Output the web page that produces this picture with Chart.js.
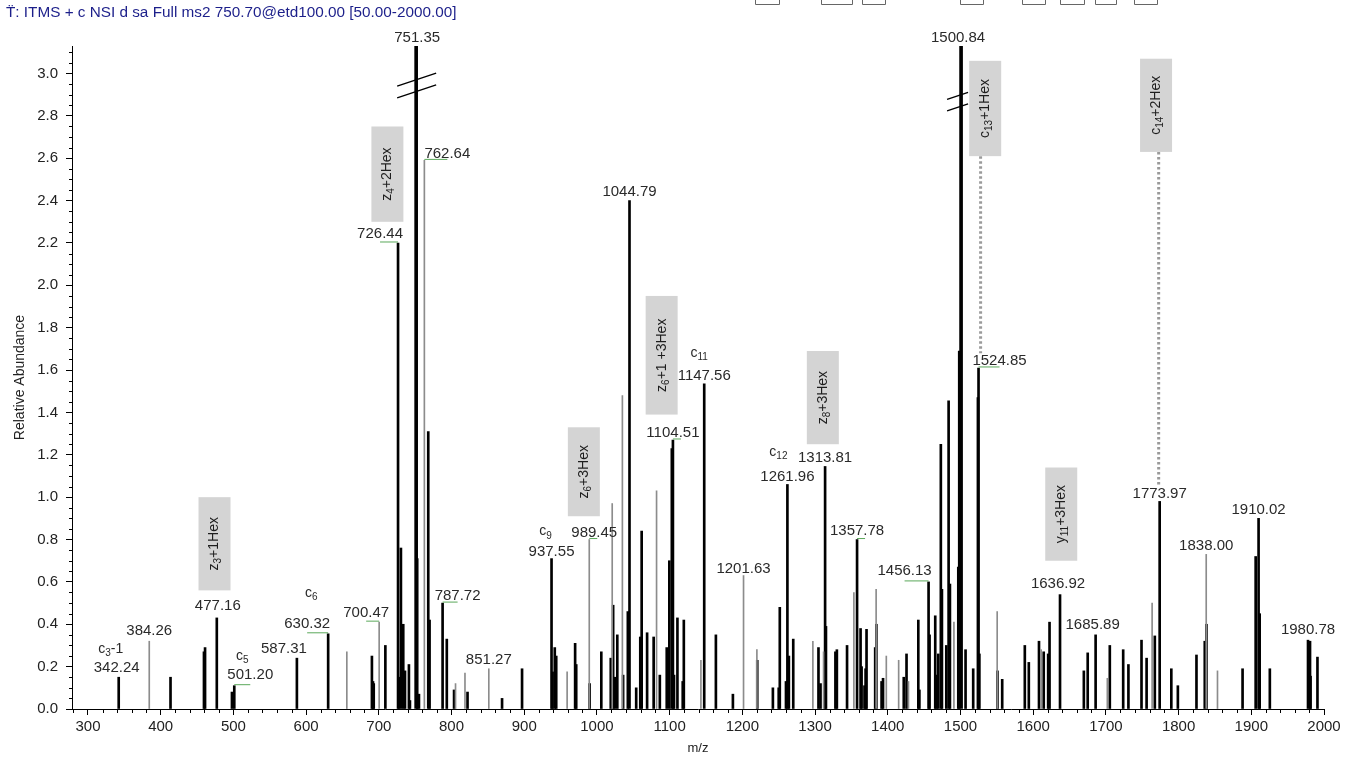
<!DOCTYPE html>
<html>
<head>
<meta charset="utf-8">
<script src="https://cdn.jsdelivr.net/npm/chart.js@4.4.0/dist/chart.umd.min.js"></script>
<style>
  html, body { margin: 0; padding: 0; background: #fff; }
  #wrap { position: relative; width: 1355px; height: 759px; }
</style>
</head>
<body>
<div id="wrap"><canvas id="spectrum"></canvas></div>
<script>
// peaks (m/z, relative abundance)
const blackMz = [342.24, 413.5, 459.5, 461.0, 477.16, 498.0, 501.20, 587.31, 630.32, 690.5, 692.0, 693.0,
  709.0, 726.44, 727.5, 730.4, 733.6, 736.0, 741.4, 742.8, 752.8, 755.2, 768.0, 769.8, 787.72, 793.5,
  803.5, 822.0, 869.5, 897.0,
  937.55, 939.0, 942.0, 944.0, 970.0, 971.5, 989.9, 1006.0, 1019.0, 1022.3, 1024.5, 1028.0, 1036.0,
  1042.5, 1044.79, 1054.0, 1059.6, 1061.5, 1069.0, 1078.0, 1086.5, 1096.0, 1099.6, 1103.0, 1104.51,
  1106.0, 1110.7, 1118.0, 1119.5, 1147.56, 1163.6, 1187.0, 1220.5, 1242.0, 1250.0, 1251.5, 1260.0,
  1261.96, 1264.0, 1270.0, 1304.7, 1307.5, 1313.81, 1315.0, 1328.0, 1330.0, 1344.0, 1357.78, 1362.6,
  1364.0, 1368.0, 1369.5, 1370.8, 1382.7, 1384.3, 1391.5, 1393.5, 1422.0, 1425.8, 1442.0, 1443.5,
  1456.13, 1457.5, 1465.3, 1467.0, 1469.5, 1473.0, 1474.5, 1480.5, 1483.7, 1485.5, 1497.0, 1498.3,
  1507.0, 1517.5, 1524.0, 1524.85, 1526.0, 1550.8, 1557.4, 1588.5, 1594.0, 1608.0, 1614.5, 1620.6,
  1622.5, 1636.92, 1669.7, 1675.0, 1685.89, 1705.4, 1723.8, 1731.0, 1749.0, 1756.0, 1767.3, 1773.97,
  1790.0, 1799.0, 1824.6, 1836.0, 1838.3, 1888.0, 1906.0, 1910.02, 1911.5, 1925.5, 1978.0, 1980.78,
  1981.5, 1991.0];
const blackAbund = [0.15, 0.15, 0.27, 0.29, 0.43, 0.08, 0.11, 0.24, 0.355, 0.25, 0.13, 0.12,
  0.30, 2.20, 0.15, 0.76, 0.40, 0.18, 0.21, 0.04, 0.71, 0.07, 1.31, 0.42, 0.50, 0.33,
  0.09, 0.08, 0.05, 0.19,
  0.71, 0.175, 0.29, 0.25, 0.31, 0.21, 0.12, 0.27, 0.24, 0.49, 0.15, 0.35, 0.16,
  0.46, 2.40, 0.10, 0.34, 0.84, 0.36, 0.34, 0.16, 0.29, 0.70, 1.23, 1.27,
  0.16, 0.43, 0.13, 0.42, 1.535, 0.35, 0.07, 0.23, 0.10, 0.10, 0.48, 0.13,
  1.06, 0.25, 0.33, 0.29, 0.12, 1.145, 0.39, 0.27, 0.28, 0.30, 0.80, 0.38,
  0.20, 0.11, 0.19, 0.376, 0.29, 0.40, 0.13, 0.145, 0.15, 0.26, 0.42, 0.09,
  0.60, 0.35, 0.44, 0.16, 0.26, 1.25, 0.565, 0.30, 1.455, 0.59, 0.67, 1.69,
  0.28, 0.19, 1.47, 1.61, 0.26, 0.18, 0.14, 0.30, 0.22, 0.32, 0.27, 0.26,
  0.41, 0.54, 0.18, 0.265, 0.35, 0.30, 0.28, 0.21, 0.325, 0.24, 0.345, 0.98,
  0.19, 0.11, 0.255, 0.32, 0.40, 0.19, 0.72, 0.90, 0.45, 0.19, 0.325, 0.32,
  0.155, 0.245];
const greyMz = [384.26, 656.0, 700.47, 762.64, 805.5, 818.5, 851.27, 959.0, 989.45, 1021.0, 1035.0,
  1082.0, 1143.0, 1201.63, 1220.0, 1297.0, 1311.7, 1353.4, 1384.0, 1398.0, 1415.0, 1428.5, 1491.0,
  1550.5, 1611.0, 1702.0, 1763.6, 1838.00, 1853.5];
const greyAbund = [0.32, 0.27, 0.41, 2.59, 0.12, 0.17, 0.19, 0.175, 0.80, 0.97, 1.48,
  1.03, 0.23, 0.63, 0.28, 0.32, 0.27, 0.55, 0.565, 0.25, 0.23, 0.13, 0.41,
  0.46, 0.28, 0.145, 0.50, 0.73, 0.18];
// base peaks run off the top of the axis (broken)
const baseMz = [751.35, 1500.84];
const baseAbund = [3.13, 3.13];

const labelMz = [342.24, 384.26, 477.16, 501.20, 587.31, 630.32, 700.47, 726.44, 751.35, 762.64,
  787.72, 851.27, 937.55, 989.45, 1044.79, 1104.51, 1147.56, 1201.63, 1261.96, 1313.81, 1357.78,
  1456.13, 1500.84, 1524.85, 1636.92, 1685.89, 1773.97, 1838.00, 1910.02, 1980.78];
const ionMz = [342.24, 501.20, 630.32, 937.55, 1147.56, 1261.96];
const ionText = ['c_3-1', 'c_5', 'c_6', 'c_9', 'c_11', 'c_12'];
const glycoText = ['z_3+1Hex', 'z_4+2Hex', 'z_6+3Hex', 'z_6+1 +3Hex', 'z_8+3Hex', 'c_13+1Hex', 'c_14+2Hex', 'y_11+3Hex'];
const glycoMz = [474, 711.8, 982, 1089, 1310.7, 1534, 1769, 1638.6];

const xTickValues = [300, 400, 500, 600, 700, 800, 900, 1000, 1100, 1200, 1300, 1400, 1500, 1600, 1700, 1800, 1900, 2000];
const yTickValues = [0, 0.2, 0.4, 0.6, 0.8, 1.0, 1.2, 1.4, 1.6, 1.8, 2.0, 2.2, 2.4, 2.6, 2.8, 3.0];

const FONT = '"Liberation Sans", Arial, sans-serif';
const headerText = 'T\u0308: ITMS + c NSI d sa Full ms2 750.70@etd100.00 [50.00-2000.00]';

// layout for the annotations (pixel nudges / value extents)
const labelNudge = { // [dx, dy above peak top]
  '342.24': [-2, 9], '384.26': [0, 10], '477.16': [1, 12], '501.20': [16, 11], '587.31': [-13, 9],
  '630.32': [-21, 10], '700.47': [-13, 9], '726.44': [-18, 9], '751.35': [1, 8], '762.64': [23, 7],
  '787.72': [15, 7], '937.55': [0, 7], '989.45': [5, 7], '1104.51': [0, 7], '1147.56': [0, 8],
  '1201.63': [0, 7], '1261.96': [0, 8], '1456.13': [-24, 11], '1500.84': [-3, 8], '1524.85': [21, 7],
  '1636.92': [-2, 11], '1685.89': [-3, 10], '1773.97': [0, 8], '1980.78': [-2, 11]
};
const greenUnder = ['501.20', '630.32', '700.47', '726.44', '762.64', '787.72', '989.45', '1104.51', '1357.78', '1456.13', '1524.85'];
const ionNudge = { // offset from the number label
  '342.24': [-6, -19], '501.20': [-8, -19], '630.32': [4, -31], '937.55': [-6, -20],
  '1147.56': [-5, -23], '1261.96': [-9, -24]
};
const boxExtent = [[1.00, 0.56], [2.75, 2.30], [1.33, 0.91], [1.95, 1.39], [1.69, 1.25], [3.06, 2.61], [3.07, 2.63], [1.14, 0.70]];
const leaders = [{ mz: 1527.7, from: 2.61, to: 1.68 }, { mz: 1772.6, from: 2.63, to: 1.05 }];
const breaks = [{ mz: 751.35, vals: [2.97, 2.915], l: 19, r: 20 }, { mz: 1500.84, vals: [2.90, 2.846], l: 14, r: 7 }];
const topMarks = [[1217, 1250], [1308, 1351], [1364, 1396], [1499, 1531], [1584, 1616], [1637, 1670], [1685, 1714], [1738, 1770]];

function toPoints(mz, ab) {
    return mz.map((m, i) => ({ x: m, y: ab[i] }));
}

function peakTop(mz) {
    let i = baseMz.indexOf(mz);
    if (i >= 0) return baseAbund[i];
    i = greyMz.indexOf(mz);
    if (i >= 0) return greyAbund[i];
    i = blackMz.indexOf(mz);
    return i >= 0 ? blackAbund[i] : 0;
}

function richParts(str) {
    const m = str.match(/^([^_]*)_(\d+)(.*)$/);
    if (!m) return [{ t: str }];
    return [{ t: m[1] }, { t: m[2], sub: true }, { t: m[3] }];
}

function drawRich(ctx, str, cx, cy, size) {
    const parts = richParts(str);
    let w = 0;
    parts.forEach(p => {
        p.font = (p.sub ? Math.round(size * 0.7) : size) + 'px ' + FONT;
        ctx.font = p.font;
        p.w = ctx.measureText(p.t).width;
        w += p.w;
    });
    let xx = cx - w / 2;
    ctx.textAlign = 'left';
    ctx.textBaseline = 'middle';
    parts.forEach(p => {
        ctx.font = p.font;
        ctx.fillText(p.t, xx, cy + (p.sub ? size * 0.3 : 0));
        xx += p.w;
    });
}

const spectrumDecor = {
    id: 'spectrumDecor',
    afterDatasetsDraw(chart) {
        const { ctx, scales: { x, y } } = chart;
        ctx.save();

        // axis breaks on the base peaks
        ctx.strokeStyle = '#000';
        ctx.lineWidth = 1.3;
        breaks.forEach(b => {
            const px = x.getPixelForValue(b.mz);
            b.vals.forEach(v => {
                const py = y.getPixelForValue(v);
                ctx.beginPath();
                ctx.moveTo(px - b.l, py + b.l / 3);
                ctx.lineTo(px + b.r, py - b.r / 3);
                ctx.stroke();
            });
        });

        // dotted leaders from the glyco boxes
        ctx.strokeStyle = '#9a9a9a';
        ctx.lineWidth = 3;
        ctx.setLineDash([2.5, 2.5]);
        leaders.forEach(l => {
            const px = x.getPixelForValue(l.mz);
            ctx.beginPath();
            ctx.moveTo(px, y.getPixelForValue(l.from));
            ctx.lineTo(px, y.getPixelForValue(l.to));
            ctx.stroke();
        });
        ctx.setLineDash([]);

        // grey glyco boxes with vertical text
        glycoText.forEach((t, i) => {
            const cx = x.getPixelForValue(glycoMz[i]);
            const top = y.getPixelForValue(boxExtent[i][0]);
            const bot = y.getPixelForValue(boxExtent[i][1]);
            ctx.fillStyle = '#d4d4d4';
            ctx.fillRect(cx - 16, top, 32, bot - top);
            ctx.fillStyle = '#1e1e1e';
            ctx.save();
            ctx.translate(cx, (top + bot) / 2);
            ctx.rotate(-Math.PI / 2);
            drawRich(ctx, t, 0, 0, 14);
            ctx.restore();
        });

        // peak labels
        labelMz.forEach(m => {
            const key = m.toFixed(2);
            const nudge = labelNudge[key] || [0, 9];
            const px = x.getPixelForValue(m);
            const py = y.getPixelForValue(peakTop(m));
            const lx = px + nudge[0];
            const ly = py - nudge[1];
            ctx.fillStyle = '#2a2a2a';
            ctx.font = '15px ' + FONT;
            ctx.textAlign = 'center';
            ctx.textBaseline = 'middle';
            ctx.fillText(key, lx, ly);
            if (greenUnder.includes(key)) {
                ctx.strokeStyle = '#5aa85a';
                ctx.lineWidth = 1;
                ctx.beginPath();
                const x2 = Math.abs(nudge[0]) > 5 ? lx : px + 8;
                ctx.moveTo(px, py - 1);
                ctx.lineTo(x2, py - 1);
                ctx.stroke();
            }
            const ii = ionMz.indexOf(m);
            if (ii >= 0) {
                const off = ionNudge[key];
                ctx.fillStyle = '#2a2a2a';
                drawRich(ctx, ionText[ii], lx + off[0], ly + off[1], 14);
            }
        });
        ctx.restore();
    },
    afterDraw(chart) {
        const { ctx, scales: { x, y }, chartArea } = chart;
        ctx.save();
        ctx.strokeStyle = '#000';
        ctx.lineWidth = 1;
        // minor ticks
        for (let v = 0.05; v < 3.12; v += 0.05) {
            if (Math.abs(v / 0.2 - Math.round(v / 0.2)) < 0.01) continue;
            const py = Math.round(y.getPixelForValue(v)) + 0.5;
            ctx.beginPath();
            ctx.moveTo(chartArea.left - 3, py);
            ctx.lineTo(chartArea.left, py);
            ctx.stroke();
        }
        for (let m = 280; m < 2000; m += 20) {
            if (m % 100 === 0) continue;
            const px = Math.round(x.getPixelForValue(m)) + 0.5;
            ctx.beginPath();
            ctx.moveTo(px, chartArea.bottom);
            ctx.lineTo(px, chartArea.bottom + 4);
            ctx.stroke();
        }
        // scan header
        ctx.fillStyle = '#1c1f8a';
        ctx.font = '15.3px ' + FONT;
        ctx.textAlign = 'left';
        ctx.textBaseline = 'middle';
        ctx.fillText(headerText, 6, 13);
        // cut-off marks along the top edge
        ctx.strokeStyle = '#666';
        topMarks.forEach(r => {
            const a = Math.round(x.getPixelForValue(r[0])) + 0.5;
            const b = Math.round(x.getPixelForValue(r[1])) + 0.5;
            ctx.beginPath();
            ctx.moveTo(a, 0);
            ctx.lineTo(a, 4.5);
            ctx.lineTo(b, 4.5);
            ctx.lineTo(b, 0);
            ctx.stroke();
        });
        ctx.restore();
    }
};

const canvas = document.getElementById('spectrum');
const chart = new Chart(canvas.getContext('2d'), {
    type: 'bar',
    data: {
        datasets: [{
            label: 'minor',
            data: toPoints(greyMz, greyAbund),
            backgroundColor: '#8c8c8c',
            barThickness: 1,
            grouped: false,
            borderWidth: 0
        }, {
            label: 'peaks',
            data: toPoints(blackMz, blackAbund),
            backgroundColor: '#000',
            barThickness: 2,
            grouped: false,
            borderWidth: 0
        }, {
            label: 'base',
            data: toPoints(baseMz, baseAbund),
            backgroundColor: '#000',
            barThickness: 3,
            grouped: false,
            borderWidth: 0
        }]
    },
    options: {
        responsive: true,
        maintainAspectRatio: false,
        animation: false,
        events: [],
        layout: { padding: { left: 0, right: 31, top: 46, bottom: 0 } },
        plugins: { legend: { display: false }, tooltip: { enabled: false } },
        scales: {
            x: {
                type: 'linear',
                min: 278,
                max: 2000,
                offset: false,
                grid: { drawOnChartArea: false, drawTicks: true, tickLength: 6, color: '#000', offset: false },
                border: { display: true, color: '#000' },
                afterBuildTicks: s => { s.ticks = xTickValues.map(v => ({ value: v })); },
                afterFit: s => { s.height = 50; },
                ticks: {
                    color: '#222', font: { family: FONT, size: 15 }, padding: 3,
                    maxRotation: 0, autoSkip: false,
                    callback: v => String(v)
                },
                title: { display: true, text: 'm/z', color: '#222', font: { family: FONT, size: 13 }, padding: { top: 0, bottom: 3 } }
            },
            y: {
                type: 'linear',
                min: 0,
                max: 3.13,
                grid: { drawOnChartArea: false, drawTicks: true, tickLength: 6, color: '#000' },
                border: { display: true, color: '#000' },
                afterBuildTicks: s => { s.ticks = yTickValues.map(v => ({ value: v })); },
                afterFit: s => { s.width = 72; },
                ticks: {
                    color: '#222', font: { family: FONT, size: 15 }, padding: 8,
                    callback: v => v.toFixed(1)
                },
                title: { display: true, text: 'Relative Abundance', color: '#222', font: { family: FONT, size: 14 }, padding: { top: 12, bottom: 0 } }
            }
        }
    },
    plugins: [spectrumDecor]
});
</script>
</body>
</html>
